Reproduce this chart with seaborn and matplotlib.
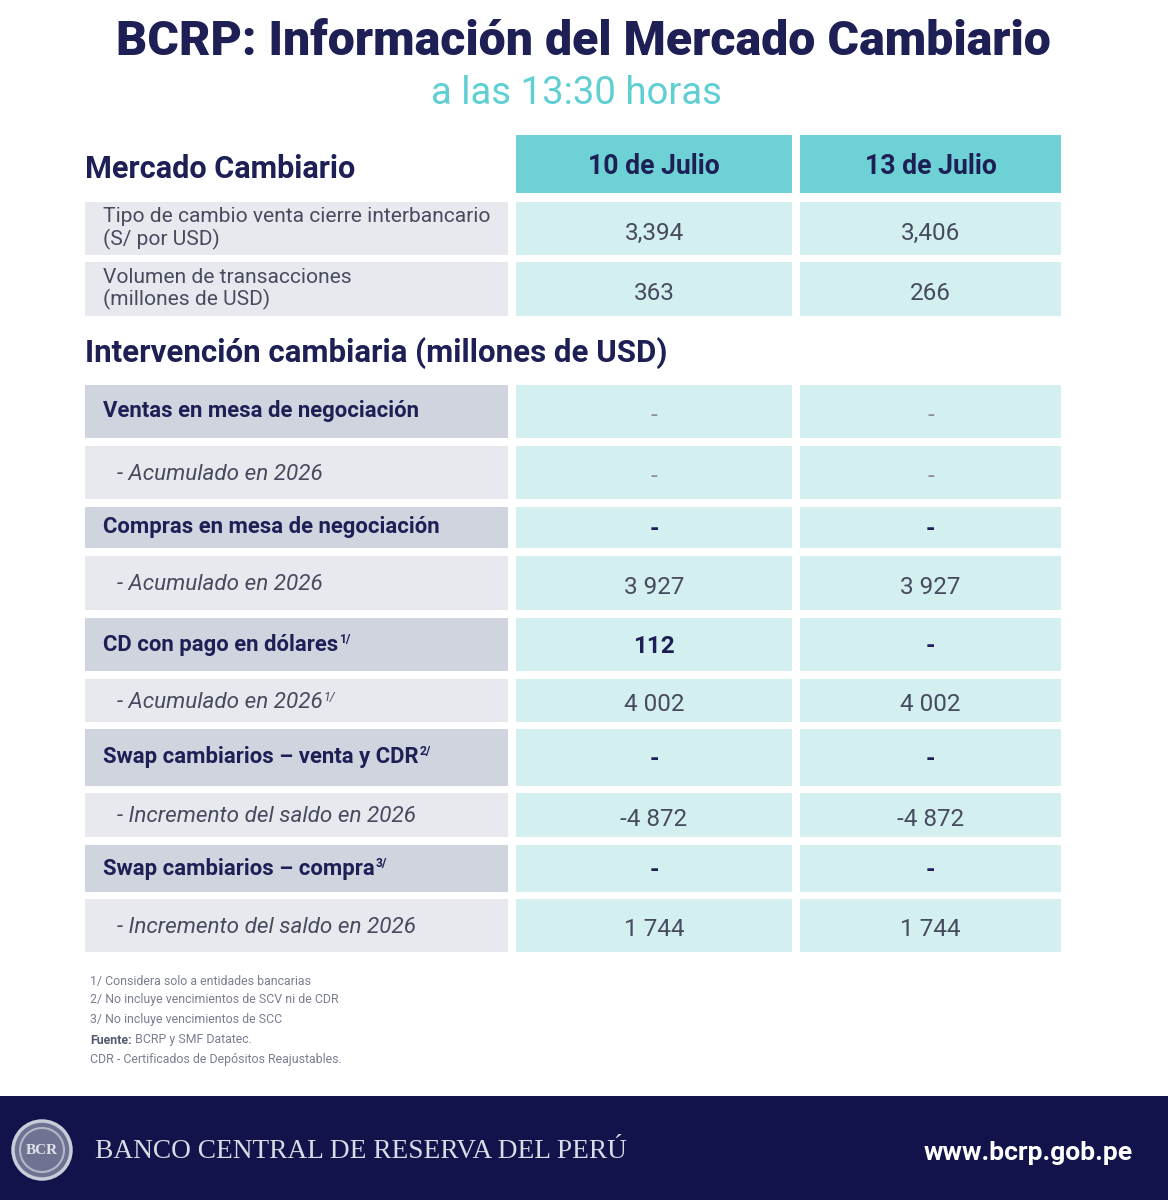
import matplotlib
matplotlib.use("Agg")
import matplotlib.pyplot as plt
import matplotlib.transforms as mtrans
from matplotlib.patches import Circle
import seaborn as sns

sns.set_theme(style="white")
plt.rcParams['font.family'] = ['Roboto', 'DejaVu Sans']

# ---------------- data ----------------
title = "BCRP: Información del Mercado Cambiario"
subtitle = "a las 13:30 horas"
dates = ["10 de Julio", "13 de Julio"]

mc_section = "Mercado Cambiario"
mc_labels = ["Tipo de cambio venta cierre interbancario\n(S/ por USD)",
             "Volumen de transacciones\n(millones de USD)"]
mc_jul10 = [3.394, 363]
mc_jul13 = [3.406, 266]

int_section = "Intervención cambiaria (millones de USD)"
int_labels = ["Ventas en mesa de negociación",
              "- Acumulado en 2026",
              "Compras en mesa de negociación",
              "- Acumulado en 2026",
              "CD con pago en dólares",
              "- Acumulado en 2026",
              "Swap cambiarios – venta y CDR",
              "- Incremento del saldo en 2026",
              "Swap cambiarios – compra",
              "- Incremento del saldo en 2026"]
int_notes = ["", "", "", "", "1/", "1/", "2/", "", "3/", ""]
int_jul10 = [None, None, None, 3927, 112, 4002, None, -4872, None, 1744]
int_jul13 = [None, None, None, 3927, None, 4002, None, -4872, None, 1744]

footnotes = ["1/ Considera solo a entidades bancarias",
             "2/ No incluye vencimientos de SCV ni de CDR",
             "3/ No incluye vencimientos de SCC",
             "Fuente:| BCRP y SMF Datatec.",
             "CDR - Certificados de Depósitos Reajustables."]
footer_name = "BANCO CENTRAL DE RESERVA DEL PERÚ"
footer_url = "www.bcrp.gob.pe"

# ---------------- styling / layout ----------------
NAVY = "#1e1f55"
TEAL = "#5fcfd3"
HEAD = "#6dd1d5"
VAL = "#d3eff0"
LEFT_LIGHT = "#e8e9ee"
LEFT_DARK = "#d0d4df"
GRAY = "#474b5e"
FOOT = "#12134a"

is_sub = [lbl.startswith("-") for lbl in int_labels]
bold_val = [False, False, True, False, True, False, True, False, True, False]

W, H = 1168, 1200
fig = plt.figure(figsize=(W / 100, H / 100), dpi=100)
fig.patch.set_facecolor("white")
ax = fig.add_axes([0, 0, 1, 1])
ax.set_xlim(0, W)
ax.set_ylim(H, 0)
ax.axis("off")
renderer = fig.canvas.get_renderer()


def fit(t, target_w):
    w = t.get_window_extent(renderer).width
    t.set_fontsize(t.get_fontsize() * target_w / w)
    return t


def fmt_int(v):
    if v is None:
        return "-"
    return f"{v:,}".replace(",", " ")


def fmt_rate(v):
    return f"{v:.3f}".replace(".", ",")


COL_L = (85, 508)
COL_A = (516, 792)
COL_B = (800, 1061)
BAR_KW = dict(linewidth=0, edgecolor="none")

# title
fit(ax.text(W / 2 - 1, 42, title, ha="center", va="center", color=NAVY,
            fontsize=30, fontweight="heavy"), 934)
fit(ax.text(576, 93, subtitle, ha="center", va="center", color=TEAL,
            fontsize=22), 292)

# section 1 header
fit(ax.text(85, 169, mc_section, ha="left", va="center", color=NAVY,
            fontsize=18, fontweight="bold"), 272)
ax.barh([164, 164], [COL_A[1] - COL_A[0], COL_B[1] - COL_B[0]],
        left=[COL_A[0], COL_B[0]], height=58, color=HEAD, **BAR_KW)
for (x0, x1), d in zip([COL_A, COL_B], dates):
    fit(ax.text((x0 + x1) / 2, 167, d, ha="center", va="center", color=NAVY,
                fontsize=17, fontweight="bold"), 132)

mc_top = [202, 262]
mc_bot = [255, 316]
mc_c = [(a + b) / 2 for a, b in zip(mc_top, mc_bot)]
mc_h = [b - a for a, b in zip(mc_top, mc_bot)]
ax.barh(mc_c, COL_L[1] - COL_L[0], left=COL_L[0], height=mc_h, color=LEFT_LIGHT, **BAR_KW)
ax.barh(mc_c, COL_A[1] - COL_A[0], left=COL_A[0], height=mc_h, color=VAL, **BAR_KW)
ax.barh(mc_c, COL_B[1] - COL_B[0], left=COL_B[0], height=mc_h, color=VAL, **BAR_KW)
for i, lbl in enumerate(mc_labels):
    t = ax.text(103, mc_c[i], lbl, ha="left", va="center", color=GRAY,
                fontsize=13.5, linespacing=1.15)
    if i == 0:
        fit(t, 388)
        lab_fs = t.get_fontsize()
    else:
        t.set_fontsize(lab_fs)
    v10 = fmt_rate(mc_jul10[i]) if i == 0 else fmt_int(mc_jul10[i])
    v13 = fmt_rate(mc_jul13[i]) if i == 0 else fmt_int(mc_jul13[i])
    for (x0, x1), v in zip([COL_A, COL_B], [v10, v13]):
        ax.text((x0 + x1) / 2, mc_c[i] + 5, v, ha="center", va="center",
                color=GRAY, fontsize=17.5)

# section 2
fit(ax.text(85, 353, int_section, ha="left", va="center", color=NAVY,
            fontsize=18, fontweight="bold"), 584)

int_top = [385, 446, 507, 556, 618, 679, 729, 793, 845, 899]
int_bot = [438, 499, 548, 610, 671, 722, 786, 837, 892, 952]
int_c = [(a + b) / 2 for a, b in zip(int_top, int_bot)]
int_h = [b - a for a, b in zip(int_top, int_bot)]
left_cols = [LEFT_LIGHT if s else LEFT_DARK for s in is_sub]
ax.barh(int_c, COL_L[1] - COL_L[0], left=COL_L[0], height=int_h, color=left_cols, **BAR_KW)
ax.barh(int_c, COL_A[1] - COL_A[0], left=COL_A[0], height=int_h, color=VAL, **BAR_KW)
ax.barh(int_c, COL_B[1] - COL_B[0], left=COL_B[0], height=int_h, color=VAL, **BAR_KW)

bold_fs = None
it_fs = None
for i, lbl in enumerate(int_labels):
    if is_sub[i]:
        t = ax.text(117, int_c[i] + 2, lbl, ha="left", va="center", color=GRAY,
                    fontsize=14, style="italic")
        if it_fs is None:
            fit(t, 206)
            it_fs = t.get_fontsize()
        else:
            t.set_fontsize(it_fs)
    else:
        t = ax.text(103, int_c[i], lbl, ha="left", va="center", color=NAVY,
                    fontsize=14, fontweight="bold")
        if bold_fs is None:
            fit(t, 316)
            bold_fs = t.get_fontsize()
        else:
            t.set_fontsize(bold_fs)
    if int_notes[i]:
        bb = t.get_window_extent(renderer)
        ax.text(bb.x1 + 1, bb.y1 + 1, int_notes[i], ha="left", va="top",
                color=t.get_color(), fontsize=t.get_fontsize() * 0.55,
                fontweight=t.get_fontweight(), style=t.get_style(),
                transform=mtrans.IdentityTransform())
    for (x0, x1), v in zip([COL_A, COL_B], [int_jul10[i], int_jul13[i]]):
        s = fmt_int(v)
        if bold_val[i]:
            ax.text((x0 + x1) / 2, int_c[i] + 2, s, ha="center", va="center",
                    color=NAVY, fontsize=17.5, fontweight="bold")
        else:
            ax.text((x0 + x1) / 2, int_c[i] + 4, s, ha="center", va="center",
                    color=GRAY if v is not None else "#8a8ea0", fontsize=17.5)

# footnotes
fn_y = [981, 1000, 1020, 1040, 1060]
fn_fs = None
for y, f in zip(fn_y, footnotes):
    if "|" in f:
        a, b = f.split("|")
        ta = ax.text(90, y, a, ha="left", va="center", color="#555a6e",
                     fontsize=fn_fs, fontweight="bold")
        bb = ta.get_window_extent(renderer)
        ax.text(bb.x1 + 1, y, " " + b.strip(), ha="left",
                va="center", color="#7a7e90", fontsize=fn_fs)
    else:
        t = ax.text(90, y, f, ha="left", va="center", color="#7a7e90", fontsize=8)
        if fn_fs is None:
            fit(t, 223)
            fn_fs = t.get_fontsize()
        else:
            t.set_fontsize(fn_fs)

# footer band
ax.barh([1148], [W], left=0, height=104, color=FOOT, **BAR_KW)
ax.add_patch(Circle((42, 1150), 29, facecolor="#6f7391", edgecolor="#c9ccd9",
                    linewidth=2.5))
ax.add_patch(Circle((42, 1150), 22, facecolor="none", edgecolor="#b3b7c8",
                    linewidth=1.5))
ax.text(42, 1151, "BCR", ha="center", va="center", color="#dfe1ea",
        fontsize=11, family="Liberation Serif", fontweight="bold")
fit(ax.text(95, 1152, footer_name, ha="left", va="center", color="#d9dbe6",
            fontsize=20, family="Liberation Serif"), 532)
fit(ax.text(1133, 1153, footer_url, ha="right", va="center", color="white",
            fontsize=18, fontweight="bold"), 209)

fig.savefig("out.png", dpi=100, facecolor="white")
